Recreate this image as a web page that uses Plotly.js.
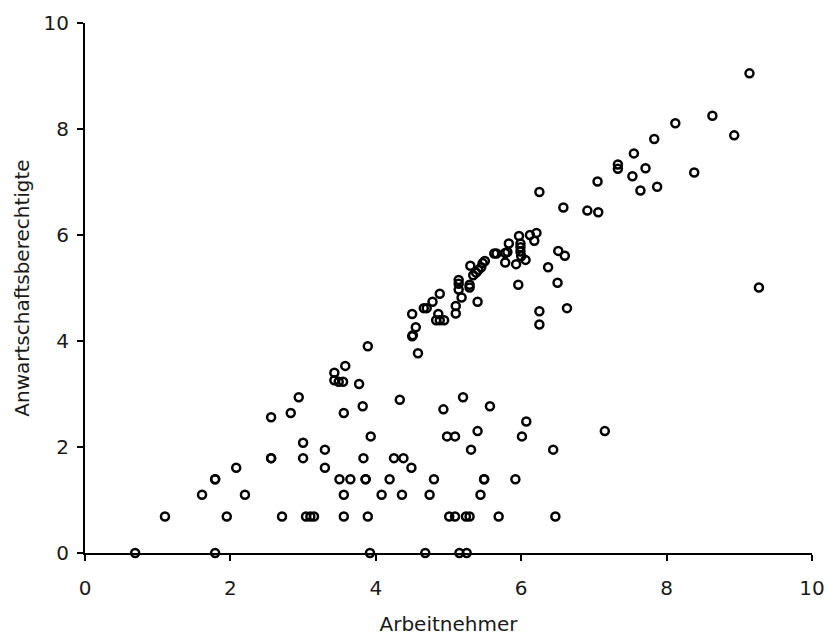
<!DOCTYPE html>
<html>
<head>
<meta charset="utf-8">
<script src="https://cdn.plot.ly/plotly-3.0.1.min.js"></script>
<style>
html,body{margin:0;padding:0;background:#fff;}
#chart{width:827px;height:636px;}
</style>
</head>
<body>
<div id="chart"></div>
<script>
// Arbeitnehmer (x) and Anwartschaftsberechtigte (y)
var arbeitnehmer = [
  0.69, 1.79, 3.92, 4.68, 5.15, 5.25,
  1.10, 1.95, 2.71, 3.04, 3.10, 3.15, 3.56, 3.89, 5.01, 5.09, 5.24, 5.29, 5.69, 6.47,
  1.61, 2.20, 3.56, 4.08, 4.36, 4.74, 5.44,
  1.79, 1.79, 3.50, 3.65, 3.86, 3.86, 4.19, 4.80, 5.49, 5.49, 5.92,
  2.08, 3.30, 4.49,
  2.56, 2.56, 3.00, 3.83, 4.25, 4.38,
  3.30, 5.31, 6.44,
  3.00,
  3.93, 4.98, 5.09, 6.01,
  5.40, 7.15,
  6.07,
  2.56,
  2.83, 3.56,
  4.93,
  3.82, 5.57,
  4.33,
  2.94, 5.20,
  3.77,
  3.49, 3.55,
  3.43, 3.43,
  3.58,
  4.58,
  3.89,
  4.50, 4.51,
  4.55, 4.50, 4.66, 4.70, 4.78, 4.88, 4.86,
  4.83, 4.88, 4.94,
  5.10, 5.10,
  5.14, 5.14, 5.14, 5.18,
  5.29, 5.29, 5.40, 5.30,
  5.34, 5.38, 5.41, 5.45, 5.47, 5.50,
  5.63, 5.66, 5.78, 5.81, 5.78, 5.83,
  5.97, 5.99, 5.99, 5.99, 6.00,
  5.93, 6.06, 6.12, 6.21, 6.18,
  6.37, 6.51, 6.60, 6.50, 5.96,
  6.25, 6.25, 6.63,
  6.25, 6.58, 6.91, 7.06, 7.05,
  7.33, 7.33, 7.53, 7.55, 7.64, 7.71, 7.83, 7.87,
  8.12, 8.38, 8.63, 8.93, 9.14, 9.27
];
var anwartschaftsberechtigte = [
  0, 0, 0, 0, 0, 0,
  0.69, 0.69, 0.69, 0.69, 0.69, 0.69, 0.69, 0.69, 0.69, 0.69, 0.69, 0.69, 0.69, 0.69,
  1.10, 1.10, 1.10, 1.10, 1.10, 1.10, 1.10,
  1.39, 1.39, 1.39, 1.39, 1.39, 1.39, 1.39, 1.39, 1.39, 1.39, 1.39,
  1.61, 1.61, 1.61,
  1.79, 1.79, 1.79, 1.79, 1.79, 1.79,
  1.95, 1.95, 1.95,
  2.08,
  2.20, 2.20, 2.20, 2.20,
  2.30, 2.30,
  2.48,
  2.56,
  2.64, 2.64,
  2.71,
  2.77, 2.77,
  2.89,
  2.94, 2.94,
  3.19,
  3.23, 3.23,
  3.26, 3.40,
  3.53,
  3.77,
  3.90,
  4.09, 4.11,
  4.26, 4.51, 4.62, 4.62, 4.74, 4.89, 4.51,
  4.39, 4.39, 4.39,
  4.66, 4.52,
  5.15, 5.08, 4.97, 4.82,
  5.06, 5.01, 4.74, 5.42,
  5.24, 5.29, 5.34, 5.39, 5.47, 5.51,
  5.65, 5.65, 5.66, 5.68, 5.48, 5.84,
  5.98, 5.84, 5.77, 5.69, 5.60,
  5.45, 5.53, 6.00, 6.04, 5.89,
  5.39, 5.70, 5.61, 5.10, 5.06,
  4.56, 4.31, 4.62,
  6.81, 6.52, 6.46, 6.43, 7.01,
  7.33, 7.25, 7.11, 7.54, 6.84, 7.26, 7.81, 6.91,
  8.11, 7.18, 8.25, 7.88, 9.05, 5.01
];
var xTicks = [0, 2, 4, 6, 8, 10];
var yTicks = [0, 2, 4, 6, 8, 10];
var xTitle = 'Arbeitnehmer';
var yTitle = 'Anwartschaftsberechtigte';

var fontFamily = 'Century Gothic, URW Gothic, DejaVu Sans, sans-serif';
var fontSize = 20;

var trace = {
  type: 'scatter',
  mode: 'markers',
  x: arbeitnehmer,
  y: anwartschaftsberechtigte,
  cliponaxis: false,
  marker: {
    symbol: 'circle-open',
    size: 8,
    color: '#000',
    line: {color: '#000', width: 2.5}
  },
  hoverinfo: 'x+y'
};

var axisCommon = {
  showgrid: false,
  zeroline: false,
  showline: true,
  linecolor: '#000',
  linewidth: 2,
  ticks: 'outside',
  ticklen: 6,
  tickwidth: 2,
  tickcolor: '#000',
  tickfont: {family: fontFamily, size: fontSize, color: '#1a1a1a'},
  fixedrange: true
};

var layout = {
  width: 827,
  height: 636,
  margin: {l: 85, r: 15, t: 23, b: 83},
  paper_bgcolor: '#fff',
  plot_bgcolor: '#fff',
  showlegend: false,
  font: {family: fontFamily, color: '#000'},
  xaxis: Object.assign({}, axisCommon, {
    range: [0, 10],
    tickmode: 'array',
    tickvals: xTicks,
    ticktext: xTicks.map(String),
    ticklabelstandoff: 10,
    title: {text: xTitle, font: {family: fontFamily, size: fontSize, color: '#1a1a1a'}, standoff: 23}
  }),
  yaxis: Object.assign({}, axisCommon, {
    range: [0, 10],
    tickmode: 'array',
    tickvals: yTicks,
    ticktext: yTicks.map(String),
    ticklabelstandoff: 4,
    title: {text: yTitle, font: {family: fontFamily, size: fontSize, color: '#1a1a1a'}, standoff: 9}
  })
};

Plotly.newPlot('chart', [trace], layout, {displayModeBar: false, staticPlot: true});
</script>
</body>
</html>
